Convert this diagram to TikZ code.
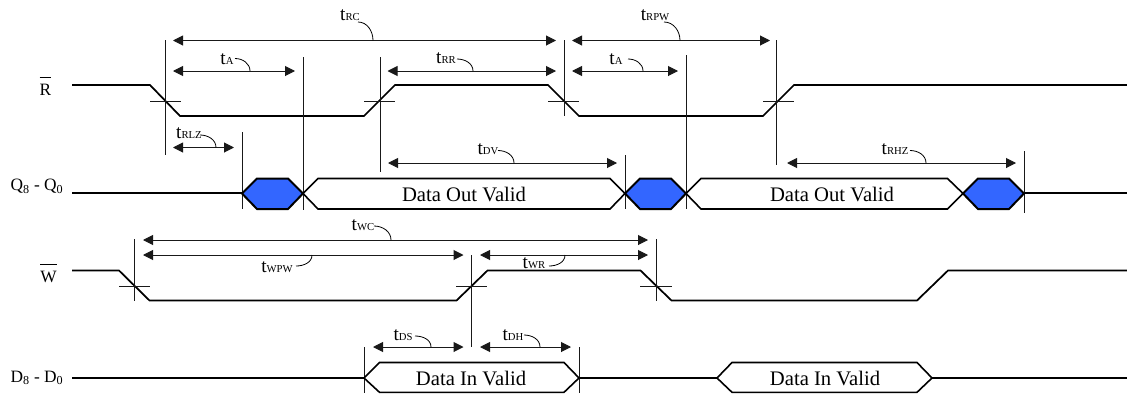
\documentclass[tikz,border=0pt]{standalone}
\usepackage{fontspec}
\setmainfont{Liberation Serif}
\usetikzlibrary{arrows.meta}
\definecolor{hexblue}{HTML}{3366FF}
\newcommand{\tname}[1]{t{\fontsize{8pt}{9pt}\selectfont #1}}
\newcommand{\barname}[1]{$\overline{\mbox{#1}\rule{0pt}{12pt}}$}

\begin{document}
\begin{tikzpicture}[x=0.75pt, y=-0.75pt,
        wave/.style = {draw, line width=1.3pt, line join=miter},
        bus/.style = {draw, line width=1.2pt, fill=white},
        blue/.style = {draw, line width=1.5pt, fill=hexblue},
        mark line/.style = {draw, line width=0.75pt, black!90},
        dim/.style = {draw, line width=0.75pt, black!90, {Triangle[length=7.5pt,width=7.5pt]}-{Triangle[length=7.5pt,width=7.5pt]}},
        lead/.style = {draw, line width=0.6pt},
        tlabel/.style = {inner sep=0pt, font=\fontsize{14.5pt}{16pt}\selectfont},
        signal/.style = {inner sep=0pt, anchor=base, font=\fontsize{13pt}{16pt}\selectfont},
        data/.style = {inner sep=0pt, font=\fontsize{15.5pt}{18pt}\selectfont}]
                \useasboundingbox (0,0) rectangle (1127,393);

                % signal names
                \node[signal] at (45.5,95) (R) {\barname{R}};
                \node[signal] at (37,190.5) (Q) {Q\textsubscript{8} - Q\textsubscript{0}};
                \node[signal] at (48.5,282) (W) {\barname{W}};
                \node[signal] at (37,382) (D) {D\textsubscript{8} - D\textsubscript{0}};

                % waveforms
                \draw[wave] (72,85) -- (150,85) -- (180,116) -- (364,116) -- (395,85) -- (548,85) -- (579,116) -- (763,116) -- (794,85) -- (1127,85);
                \draw[wave] (72,193) -- (242,193);
                \draw[wave] (1024,193) -- (1127,193);
                \draw[wave] (72,270.5) -- (119,270.5) -- (149.5,300.5) -- (456.5,300.5) -- (487.5,270.5) -- (640.5,270.5) -- (671.5,300.5) -- (917,300.5) -- (948,270.5) -- (1127,270.5);
                \draw[wave] (72,378) -- (364,378);
                \draw[wave] (579,378) -- (717,378);
                \draw[wave] (932,378) -- (1127,378);

                % vertical and horizontal marks
                \draw[mark line] (165,40) -- (165,155);
                \draw[mark line] (150,101) -- (181,101);
                \draw[mark line] (380,57) -- (380,172);
                \draw[mark line] (364,101) -- (395,101);
                \draw[mark line] (564,40) -- (564,116);
                \draw[mark line] (548,101) -- (579,101);
                \draw[mark line] (776.5,40) -- (776.5,165);
                \draw[mark line] (763,101) -- (794,101);
                \draw[mark line] (242,132) -- (242,209);
                \draw[mark line] (303,57) -- (303,210);
                \draw[mark line] (625,155) -- (625,209);
                \draw[mark line] (686,55) -- (686,209);
                \draw[mark line] (1024,151) -- (1024,213);
                \draw[mark line] (134.5,239) -- (134.5,301);
                \draw[mark line] (119,286.5) -- (150,286.5);
                \draw[mark line] (471.5,255) -- (471.5,347);
                \draw[mark line] (456,286.5) -- (487,286.5);
                \draw[mark line] (656,239) -- (656,301);
                \draw[mark line] (640,286.5) -- (672,286.5);
                \draw[mark line] (364,347) -- (364,393);
                \draw[mark line] (579,347) -- (579,393);

                % data windows
                \draw[blue] (242,193.5) -- (257,178.5) -- (288,178.5) -- (303,193.5) -- (288,209) -- (257,209) -- cycle;
                \draw[bus] (303,193.5) -- (318,178.5) -- (610,178.5) -- (625,193.5) -- (610,209) -- (318,209) -- cycle;
                \draw[blue] (625,193.5) -- (640,178.5) -- (671,178.5) -- (686,193.5) -- (671,209) -- (640,209) -- cycle;
                \draw[bus] (686,193.5) -- (701,178.5) -- (947.5,178.5) -- (963,193.5) -- (947.5,209) -- (701,209) -- cycle;
                \draw[blue] (963,193.5) -- (978,178.5) -- (1009,178.5) -- (1024,193.5) -- (1009,209) -- (978,209) -- cycle;
                \draw[bus] (364,378) -- (379.5,362.5) -- (564,362.5) -- (579,378) -- (564,392.3) -- (379.5,392.3) -- cycle;
                \draw[bus] (717,378) -- (732,362.5) -- (917,362.5) -- (932,378) -- (917,392.3) -- (732,392.3) -- cycle;
                \node[data] at (464,194) (out1) {Data Out Valid};
                \node[data] at (832,194) (out2) {Data Out Valid};
                \node[data] at (471,378) (in1) {Data In Valid};
                \node[data] at (825,378) (in2) {Data In Valid};

                % timing arrows
                \draw[dim] (173,40.5) -- (556,40.5);
                \draw[dim] (572,40.5) -- (770,40.5);
                \draw[dim] (173,71) -- (295,71);
                \draw[dim] (387.5,71) -- (556,71);
                \draw[dim] (572,71) -- (678,71);
                \draw[dim] (173,147.5) -- (234,147.5);
                \draw[dim] (388,163) -- (617,163);
                \draw[dim] (787,163) -- (1016,163);
                \draw[dim] (143,240) -- (648,240);
                \draw[dim] (143,255) -- (463.5,255);
                \draw[dim] (480,255) -- (648,255);
                \draw[dim] (373,347) -- (463.5,347);
                \draw[dim] (480,347) -- (571,347);

                % timing labels
                \node[tlabel] at (350,15) (tRC) {\tname{RC}};
                \node[tlabel] at (655,15) (tRPW) {\tname{RPW}};
                \node[tlabel] at (227,59) (tA) {\tname{A}};
                \node[tlabel] at (446,58) (tRR) {\tname{RR}};
                \node[tlabel] at (616,59) (tAb) {\tname{A}};
                \node[tlabel] at (189,133) (tRLZ) {\tname{RLZ}};
                \node[tlabel] at (488,149.5) (tDV) {\tname{DV}};
                \node[tlabel] at (895,149.5) (tRHZ) {\tname{RHZ}};
                \node[tlabel] at (363,225) (tWC) {\tname{WC}};
                \node[tlabel] at (277,267) (tWPW) {\tname{WPW}};
                \node[tlabel] at (534,263) (tWR) {\tname{WR}};
                \node[tlabel] at (403,335) (tDS) {\tname{DS}};
                \node[tlabel] at (513,335) (tDH) {\tname{DH}};

                % label leaders
                \draw[lead] (358,22) to[out=0,in=90] (373,40.5);
                \draw[lead] (664,22) to[out=0,in=90] (680,40.5);
                \draw[lead] (235,58.5) to[out=0,in=90] (250,71);
                \draw[lead] (457,59) to[out=0,in=90] (473,71);
                \draw[lead] (628,59) to[out=0,in=90] (643,71);
                \draw[lead] (200,135) to[out=0,in=90] (216,147.5);
                \draw[lead] (498,150.5) to[out=0,in=90] (514,163);
                \draw[lead] (910,150.5) to[out=0,in=90] (926,163);
                \draw[lead] (374,226) to[out=0,in=90] (391,240);
                \draw[lead] (296,266) to[out=0,in=-90] (312,255);
                \draw[lead] (549,266) to[out=0,in=-90] (565,255);
                \draw[lead] (415,336) to[out=0,in=90] (431,347);
                \draw[lead] (524,335) to[out=0,in=90] (540,347);
            \end{tikzpicture}
\end{document}
